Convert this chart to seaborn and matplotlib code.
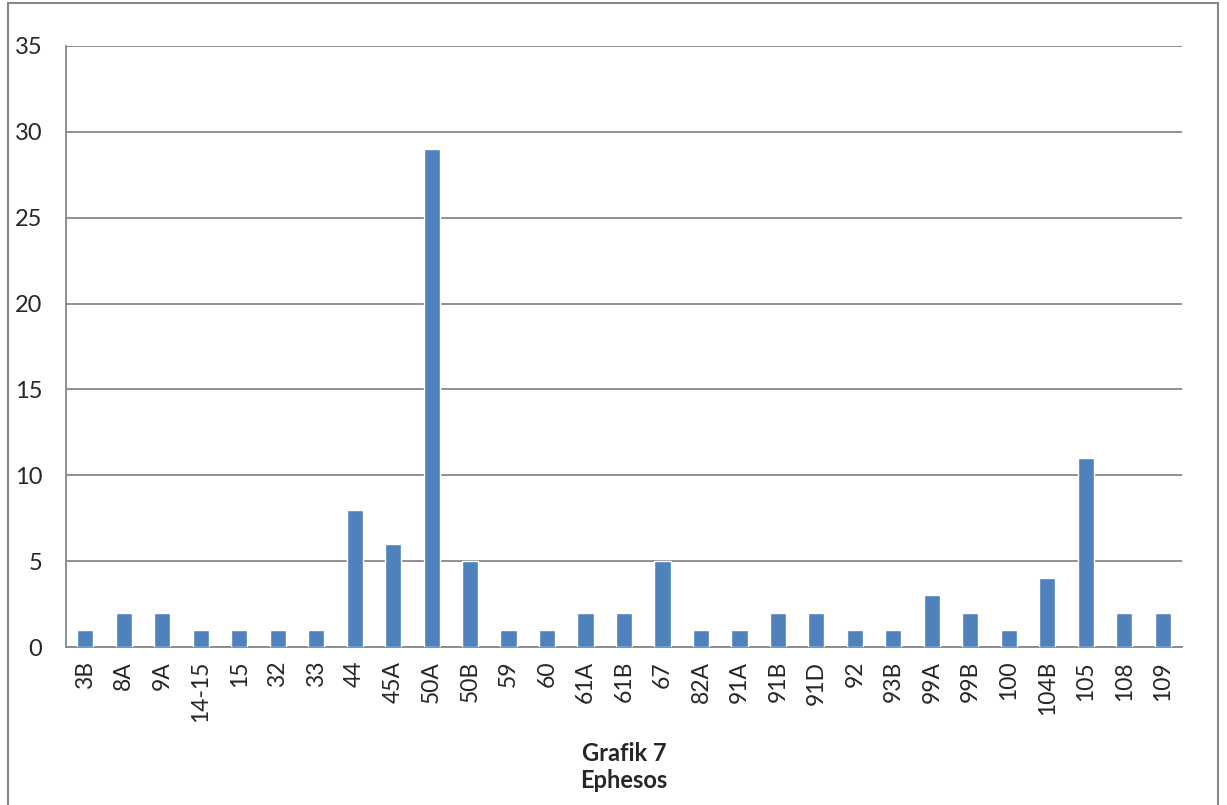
import matplotlib
matplotlib.use("Agg")
import matplotlib.pyplot as plt
import matplotlib.patches as patches
import seaborn as sns
import pandas as pd

# Grafik 7 - Ephesos
categories = ['3B', '8A', '9A', '14-15', '15', '32', '33', '44', '45A', '50A',
              '50B', '59', '60', '61A', '61B', '67', '82A', '91A', '91B', '91D',
              '92', '93B', '99A', '99B', '100', '104B', '105', '108', '109']
values = [1, 2, 2, 1, 1, 1, 1, 8, 6, 29,
          5, 1, 1, 2, 2, 5, 1, 1, 2, 2,
          1, 1, 3, 2, 1, 4, 11, 2, 2]
yticks = [0, 5, 10, 15, 20, 25, 30, 35]

df = pd.DataFrame({'kat': categories, 'n': values})

sns.set_style('white')
plt.rcParams['font.family'] = ['Lato', 'DejaVu Sans']

fig = plt.figure(figsize=(12.27, 8.05), dpi=100)
ax = fig.add_axes([66/1227, 1-647/805, (1182-66)/1227, (647-46)/805])

grey = '#878787'
sns.barplot(data=df, x='kat', y='n', order=categories, color='#4F81BD',
            width=0.42, saturation=1, ax=ax, zorder=3)

ax.set_ylim(0, 35)
ax.set_xlim(-0.5, len(categories) - 0.5)
ax.set_yticks(yticks)
ax.set_yticklabels([str(t) for t in yticks], fontsize=17)
ax.yaxis.grid(True, color=grey, lw=1.3, zorder=0)
ax.set_axisbelow(True)

# category ticks sit between bars
ax.set_xticks([i - 0.5 for i in range(len(categories) + 1)], minor=False)
ax.set_xticklabels([])
ax.set_xticks(range(len(categories)), minor=True)
ax.set_xticklabels(categories, minor=True, rotation=90, fontsize=16.5)
ax.tick_params(axis='x', which='major', length=7, width=1.3, color=grey, direction='out')
ax.tick_params(axis='x', which='minor', length=0, pad=10)
ax.tick_params(axis='y', length=8, width=1.3, color=grey, direction='out', pad=9)

for s in ['top', 'right']:
    ax.spines[s].set_visible(False)
for s in ['left', 'bottom']:
    ax.spines[s].set_color(grey)
    ax.spines[s].set_linewidth(1.3)

ax.set_xlabel('')
ax.set_ylabel('')

fig.text(624/1227, 1-767/805, 'Grafik 7\nEphesos', ha='center', va='center',
         fontsize=17, fontweight='bold', linespacing=1.25)

fig.patches.append(patches.Rectangle((8/1227, -0.05), (1218-8)/1227, 1.05-3/805,
                                     transform=fig.transFigure, fill=False,
                                     edgecolor=grey, lw=1.5))

fig.savefig('out.png', dpi=100)
